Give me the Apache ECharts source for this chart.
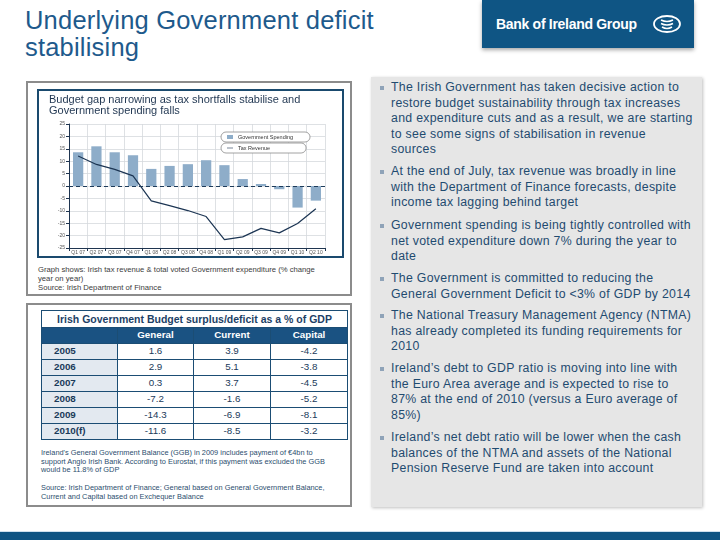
<!DOCTYPE html>
<html>
<head>
<meta charset="utf-8">
<script src="https://cdn.jsdelivr.net/npm/echarts@6/dist/echarts.min.js"></script>
<style>
  html,body{margin:0;padding:0;background:#fff;}
  #page{position:relative;width:720px;height:540px;overflow:hidden;font-family:"Liberation Sans",Arial,sans-serif;}
  .abs{position:absolute;box-sizing:border-box;}
  #title{left:25px;top:7px;font-size:25.5px;line-height:27px;color:#1e5a8c;letter-spacing:0.2px;white-space:nowrap;}
  #logo{left:482px;top:0;width:212px;height:48px;background:#0f5584;box-shadow:0 2px 4px rgba(0,0,0,0.35);}
  #logo .t{position:absolute;left:14px;top:16px;color:#fff;font-weight:bold;font-size:14px;letter-spacing:-0.3px;white-space:nowrap;}
  #logo svg{position:absolute;left:170px;top:14px;}
  .outer{border:2px solid #8c8c8c;}
  #inner1{left:37px;top:89px;width:307px;height:169px;border:2px solid #1a4a6e;}
  #chart{position:absolute;left:0;top:0;width:303px;height:165px;}
  .cap{font-size:7.7px;line-height:9px;color:#3c3c3c;white-space:nowrap;}
  #tbl{left:41px;top:310px;border-collapse:collapse;table-layout:fixed;}
  #tbl td{border:1.5px solid #1b4d74;padding:0;height:15px;font-size:9.8px;line-height:12px;color:#1a3a5a;text-align:center;}
  #tbl td.ttl{height:15.5px;background:#fff;font-weight:bold;font-size:10.5px;color:#1d3f66;}
  #tbl tr.hd td{background:#1a5282;color:#fff;font-weight:bold;}
  #tbl td.yr{background:#e3e9f0;font-weight:bold;text-align:left;padding-left:12px;}
  .note{font-size:7.4px;line-height:8.6px;color:#2b4e6e;white-space:nowrap;}
  #panel{left:371px;top:77px;width:331px;height:430px;background:#e6e6e6;box-shadow:1px 1px 3px rgba(0,0,0,0.25);}
  .bl{position:absolute;left:391px;font-size:12.3px;letter-spacing:0.3px;line-height:15.6px;color:#1f4b70;white-space:nowrap;}
  .bl:before{content:"";position:absolute;left:-11px;top:6px;width:4px;height:4px;background:#8fa3b8;}
  #bar{left:0;top:531px;width:720px;height:9px;background:#0e5383;border-top:1px solid #cfe0ee;}
</style>
</head>
<body>
<div id="page">
  <div id="title" class="abs">Underlying Government deficit<br>stabilising</div>
  <div id="logo" class="abs"><span class="t">Bank of Ireland Group</span>
    <svg width="30" height="20" viewBox="0 0 30 20">
      <ellipse cx="15" cy="10" rx="13" ry="8" fill="none" stroke="#fff" stroke-width="1.8"/>
      <path d="M9 6 Q15 9 21 6 M9 9.5 Q15 12.5 21 9.5 M10 13 Q15 16 20 13" fill="none" stroke="#fff" stroke-width="1.5"/>
    </svg>
  </div>

  <div class="abs outer" style="left:26px;top:81px;width:326px;height:215px;"></div>
  <div id="inner1" class="abs"><div id="chart"></div></div>
  <div class="abs cap" style="left:38px;top:265px;">Graph shows: Irish tax revenue &amp; total voted Government expenditure (% change<br>year on year)<br>Source: Irish Department of Finance</div>

  <div class="abs outer" style="left:26px;top:303px;width:326px;height:204px;"></div>
  <table id="tbl" class="abs"></table>
  <div class="abs note" style="left:41px;top:449px;">Ireland's General Government Balance (GGB) in 2009 includes payment of €4bn to<br>support Anglo Irish Bank. According to Eurostat, if this payment was excluded the GGB<br>would be 11.8% of GDP</div>
  <div class="abs note" style="left:41px;top:484px;">Source: Irish Department of Finance; General based on General Government Balance,<br>Current and Capital based on Exchequer Balance</div>

  <div id="panel" class="abs"></div>
  <div class="bl" style="top:80px;">The Irish Government has taken decisive action to<br>restore budget sustainability through tax increases<br>and expenditure cuts and as a result, we are starting<br>to see some signs of stabilisation in revenue<br>sources</div>
  <div class="bl" style="top:164px;">At the end of July, tax revenue was broadly in line<br>with the Department of Finance forecasts, despite<br>income tax lagging behind target</div>
  <div class="bl" style="top:218px;">Government spending is being tightly controlled with<br>net voted expenditure down 7% during the year to<br>date</div>
  <div class="bl" style="top:271px;">The Government is committed to reducing the<br>General Government Deficit to &lt;3% of GDP by 2014</div>
  <div class="bl" style="top:308px;">The National Treasury Management Agency (NTMA)<br>has already completed its funding requirements for<br>2010</div>
  <div class="bl" style="top:361px;">Ireland’s debt to GDP ratio is moving into line with<br>the Euro Area average and is expected to rise to<br>87% at the end of 2010 (versus a Euro average of<br>85%)</div>
  <div class="bl" style="top:430px;">Ireland’s net debt ratio will be lower when the cash<br>balances of the NTMA and assets of the National<br>Pension Reserve Fund are taken into account</div>

  <div id="bar" class="abs"></div>
</div>
<script>
// ---- Chart data ----
var categories = ['Q1 07','Q2 07','Q3 07','Q4 07','Q1 08','Q2 08','Q3 08','Q4 08','Q1 09','Q2 09','Q3 09','Q4 09','Q1 10','Q2 10'];
var spending = [13.6, 16.0, 13.6, 12.4, 6.9, 8.1, 8.8, 10.4, 8.4, 2.8, 0.8, -1.3, -8.7, -5.9];
var taxRevenue = [12.1, 8.7, 6.7, 4.1, -6.0, -7.9, -9.9, -12.3, -21.6, -20.5, -17.1, -18.9, -15.1, -9.2];

// ---- Table data ----
var tableTitle = 'Irish Government Budget surplus/deficit as a % of GDP';
var tableHeaders = ['', 'General', 'Current', 'Capital'];
var years = ['2005','2006','2007','2008','2009','2010(f)'];
var generalBal = ['1.6','2.9','0.3','-7.2','-14.3','-11.6'];
var currentBal = ['3.9','5.1','3.7','-1.6','-6.9','-8.5'];
var capitalBal = ['-4.2','-3.8','-4.5','-5.2','-8.1','-3.2'];

// build table
(function(){
  var colW = [76,76,77,77];
  var h = '<colgroup>' + colW.map(function(w){return '<col style="width:'+w+'px">';}).join('') + '</colgroup>';
  h += '<tr><td class="ttl" colspan="4">' + tableTitle + '</td></tr>';
  h += '<tr class="hd">' + tableHeaders.map(function(t){return '<td>'+t+'</td>';}).join('') + '</tr>';
  for (var i = 0; i < years.length; i++) {
    h += '<tr><td class="yr">'+years[i]+'</td><td>'+generalBal[i]+'</td><td>'+currentBal[i]+'</td><td>'+capitalBal[i]+'</td></tr>';
  }
  var t = document.getElementById('tbl');
  t.style.width = '306px';
  t.innerHTML = h;
})();

var chart = echarts.init(document.getElementById('chart'), null, {renderer:'canvas'});
var legendBase = {
  orient:'horizontal', left:182, itemWidth:6, itemHeight:4, itemGap:4,
  textStyle:{fontSize:5.5, color:'#333', fontFamily:'Liberation Sans'},
  borderColor:'#8a8a8a', borderWidth:0.8, borderRadius:6, padding:[2,17,2,6], backgroundColor:'#fff'
};
chart.setOption({
  animation:false,
  title:{
    text:'Budget gap narrowing as tax shortfalls stabilise and\nGovernment spending falls',
    left:10, top:3, padding:0,
    textStyle:{fontSize:11, fontWeight:'normal', color:'#1f3550', lineHeight:11.5, fontFamily:'Liberation Sans'}
  },
  legend:[
    Object.assign({}, legendBase, {top:41, data:[{name:'Government Spending', icon:'rect'}]}),
    Object.assign({}, legendBase, {top:52, padding:[2,36,2,6], data:[{name:'Tax Revenue', icon:'path://M0,2 L10,2 L10,3 L0,3 Z'}]})
  ],
  grid:{left:30, right:17, top:33, bottom:8},
  xAxis:{
    type:'category', data:categories,
    axisLine:{onZero:false, lineStyle:{color:'#1f3550', width:1}},
    axisTick:{show:true, alignWithLabel:false, length:3, lineStyle:{color:'#1f3550'}},
    axisLabel:{fontSize:5, color:'#555', margin:2, interval:0, fontFamily:'Liberation Sans'},
    splitLine:{show:true, interval:0, lineStyle:{color:'#d6d9dd', width:0.8}}
  },
  yAxis:{
    type:'value', min:-25, max:25, interval:5,
    axisLine:{show:true, lineStyle:{color:'#1f3550', width:1}},
    axisTick:{show:true, length:3, lineStyle:{color:'#1f3550'}},
    axisLabel:{fontSize:5, color:'#555', margin:4, fontFamily:'Liberation Sans'},
    splitLine:{show:true, lineStyle:{color:'#d6d9dd', width:0.8}}
  },
  series:[
    {
      name:'Government Spending', type:'bar', data:spending, barWidth:'56%',
      itemStyle:{color:'#8eadc9'},
      markLine:{silent:true, symbol:'none', label:{show:false},
        lineStyle:{color:'#1d3b5a', type:[4,3], width:1.2},
        data:[{yAxis:0}]}
    },
    {
      name:'Tax Revenue', type:'line', data:taxRevenue, symbol:'none',
      lineStyle:{color:'#1c3553', width:1.2}, itemStyle:{color:'#1c3553'}
    }
  ]
});
</script>
</body>
</html>
